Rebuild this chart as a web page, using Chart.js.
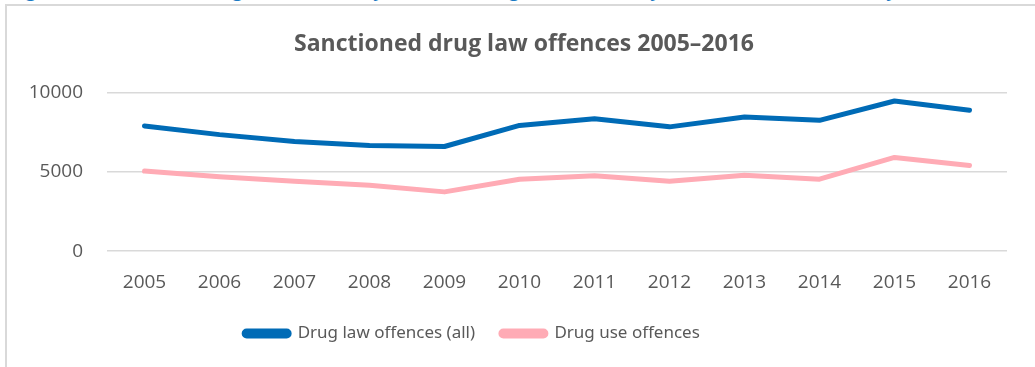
<!DOCTYPE html>
<html>
<head>
<meta charset="utf-8">
<script src="https://cdn.jsdelivr.net/npm/chart.js@4"></script>
<style>
  html, body { margin: 0; padding: 0; background: #fff; overflow: hidden; }
  body { width: 1035px; height: 367px; position: relative; }
  .caption {
    position: absolute; left: 10px; top: -24px; white-space: nowrap;
    font-family: "Open Sans", sans-serif; font-size: 19px; font-weight: 600; color: #1a7ac4;
  }
  .frame {
    position: absolute; left: 5px; top: 4px; width: 1100px; height: 400px;
    border: 2px solid #d9d9d9; box-sizing: border-box;
  }
  .wrap { position: absolute; left: 9px; top: 7px; width: 1026px; height: 360px; }
</style>
</head>
<body>
<div class="caption">Figure 9: Sanctioned drug law offences (y-axis) and drug use offences (y-axis), 2005–2016, Norway</div>
<div class="frame"></div>
<div class="wrap"><canvas id="offences-chart"></canvas></div>
<script>
const years = ["2005", "2006", "2007", "2008", "2009", "2010", "2011", "2012", "2013", "2014", "2015", "2016"];
const drugLawOffences = [7900, 7350, 6920, 6670, 6600, 7930, 8350, 7840, 8460, 8250, 9470, 8890];
const drugUseOffences = [5050, 4690, 4410, 4160, 3740, 4540, 4760, 4410, 4790, 4540, 5910, 5400];
const yTicks = [0, 5000, 10000];

const textGrey = "#595959";

// title is centred on the whole frame, legend sits left of centre
const boxShift = {
    id: 'boxShift',
    afterLayout(chart) {
        chart.titleBlock.left += 16;
        chart.titleBlock.right += 16;
        chart.legend.left -= 36;
        chart.legend.right -= 36;
    }
};

const chartOptions = {
    type: 'line',
    data: {
        labels: years,
        datasets: [{
            data: drugLawOffences,
            label: "Drug law offences (all)",
            borderColor: "#006bb6",
            backgroundColor: "#006bb6",
            borderWidth: 5,
            borderCapStyle: 'round',
            borderJoinStyle: 'round',
            pointRadius: 0,
            tension: 0,
            fill: false
        }, {
            data: drugUseOffences,
            label: "Drug use offences",
            borderColor: "#ffabb5",
            backgroundColor: "#ffabb5",
            borderWidth: 5,
            borderCapStyle: 'round',
            borderJoinStyle: 'round',
            pointRadius: 0,
            tension: 0,
            fill: false
        }]
    },
    options: {
        responsive: true,
        maintainAspectRatio: false,
        animation: false,
        layout: {
            padding: { left: 0, right: 28, top: 0, bottom: 15 }
        },
        plugins: {
            title: {
                display: true,
                text: "Sanctioned drug law offences 2005–2016",
                color: textGrey,
                font: { family: "Open Sans", size: 23, weight: 'bold' },
                padding: { top: 24, bottom: 34 }
            },
            legend: {
                position: 'bottom',
                labels: {
                    color: textGrey,
                    font: { family: "Noto Sans", size: 17 },
                    boxWidth: 45,
                    boxHeight: 5,
                    useBorderRadius: true,
                    borderRadius: 2.5,
                    padding: 17,
                    generateLabels: (chart) => {
                        const items = Chart.defaults.plugins.legend.labels.generateLabels(chart);
                        items[0].text += "  ";
                        return items;
                    }
                }
            },
            tooltip: { enabled: false }
        },
        scales: {
            x: {
                offset: true,
                afterFit: (axis) => { axis.height += 2; },
                grid: { display: false },
                border: { display: false },
                ticks: {
                    color: textGrey,
                    font: { family: "Open Sans", size: 19 },
                    padding: 12,
                    maxRotation: 0
                }
            },
            y: {
                min: 0,
                max: 10000,
                afterBuildTicks: (axis) => { axis.ticks = yTicks.map(v => ({ value: v })); },
                afterFit: (axis) => { axis.width = 98; },
                grid: { color: "#d9d9d9", lineWidth: 1.5, drawTicks: false },
                border: { display: false },
                ticks: {
                    color: textGrey,
                    font: { family: "Open Sans", size: 19 },
                    padding: 24,
                    callback: (value) => String(value)
                }
            }
        }
    },
    plugins: [boxShift]
};

const ctx = document.getElementById('offences-chart').getContext('2d');
const offencesChart = new Chart(ctx, chartOptions);
</script>
</body>
</html>
